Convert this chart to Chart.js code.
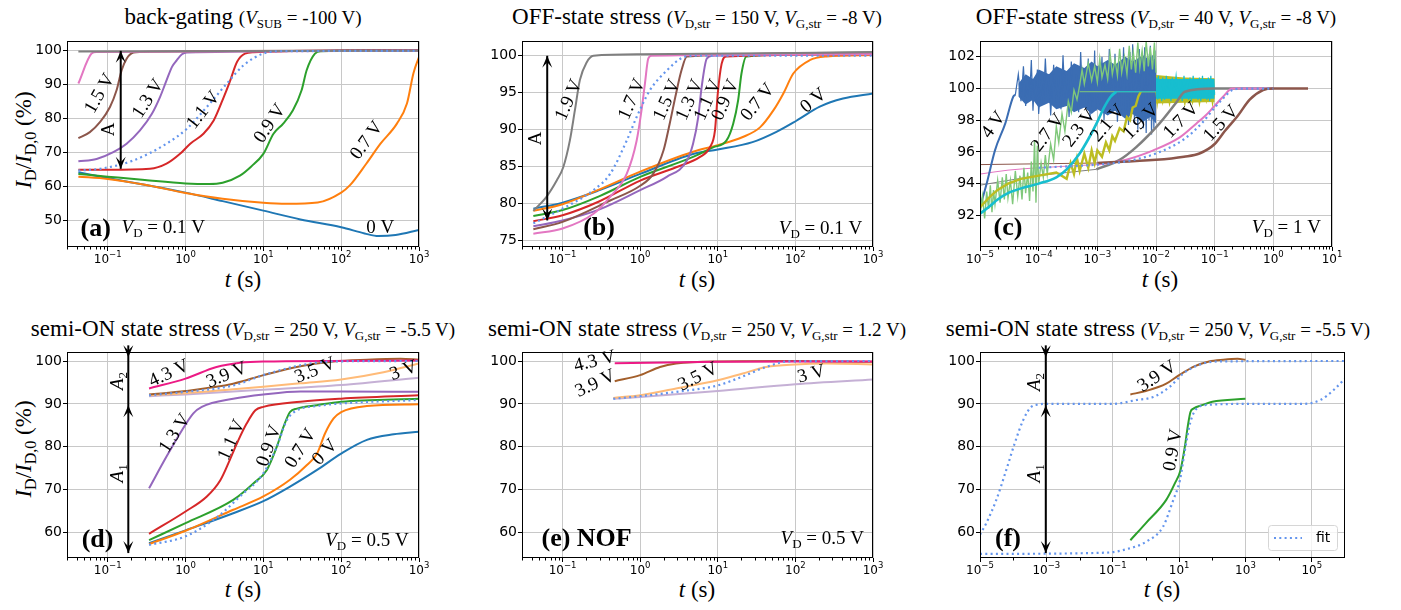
<!DOCTYPE html>
<html>
<head>
<meta charset="utf-8">
<title>Recovery transients</title>
<script src="https://cdn.jsdelivr.net/npm/chart.js@4.4.1/dist/chart.umd.min.js"></script>
<style>
  html, body { margin: 0; padding: 0; background: #fff; }
  body { position: relative; width: 1401px; height: 610px; overflow: hidden; font-family: "Liberation Serif", serif; color: #000; }
  canvas { position: absolute; }
  .ttl { position: absolute; transform: translateX(-50%); white-space: nowrap; font-size: 23px; line-height: 23px; }
  .ttl .p { font-size: 19px; }
  .ttl sub { font-size: 13px; vertical-align: -4px; line-height: 0; }
  .xl { position: absolute; transform: translateX(-50%); white-space: nowrap; font-size: 23px; line-height: 23px; }
  .yl { position: absolute; transform: translate(-50%, -50%) rotate(-90deg); white-space: nowrap; font-size: 23px; line-height: 23px; }
  .yl sub { font-size: 16px; vertical-align: -5px; line-height: 0; }
</style>
</head>
<body>
<div class="ttl" style="left:243px;top:5px">back-gating <span class="p">(<i>V</i><sub>SUB</sub> = -100 V)</span></div>
<div class="ttl" style="left:697px;top:5px">OFF-state stress <span class="p">(<i>V</i><sub>D,str</sub> = 150 V, <i>V</i><sub>G,str</sub> = -8 V)</span></div>
<div class="ttl" style="left:1156px;top:5px">OFF-state stress <span class="p">(<i>V</i><sub>D,str</sub> = 40 V, <i>V</i><sub>G,str</sub> = -8 V)</span></div>
<div class="ttl" style="left:243px;top:317px">semi-ON state stress <span class="p">(<i>V</i><sub>D,str</sub> = 250 V, <i>V</i><sub>G,str</sub> = -5.5 V)</span></div>
<div class="ttl" style="left:697px;top:317px">semi-ON state stress <span class="p">(<i>V</i><sub>D,str</sub> = 250 V, <i>V</i><sub>G,str</sub> = 1.2 V)</span></div>
<div class="ttl" style="left:1158px;top:317px">semi-ON state stress <span class="p">(<i>V</i><sub>D,str</sub> = 250 V, <i>V</i><sub>G,str</sub> = -5.5 V)</span></div>

<div class="xl" style="left:243px;top:268px"><i>t</i> (s)</div>
<div class="xl" style="left:697px;top:268px"><i>t</i> (s)</div>
<div class="xl" style="left:1160px;top:268px"><i>t</i> (s)</div>
<div class="xl" style="left:243px;top:578px"><i>t</i> (s)</div>
<div class="xl" style="left:697px;top:578px"><i>t</i> (s)</div>
<div class="xl" style="left:1162px;top:578px"><i>t</i> (s)</div>

<div class="yl" style="left:23px;top:140px"><i>I</i><sub>D</sub>/<i>I</i><sub>D,0</sub> (%)</div>
<div class="yl" style="left:23px;top:449px"><i>I</i><sub>D</sub>/<i>I</i><sub>D,0</sub> (%)</div>

<script>
// ---------- axes ----------
const xTicksDec = [1e-1, 1e0, 1e1, 1e2, 1e3];
const xTicksC = [1e-5, 1e-4, 1e-3, 1e-2, 1e-1, 1e0, 1e1];
const xTicksF = [1e-5, 1e-3, 1e-1, 1e1, 1e3, 1e5];
const yTicksA = [50, 60, 70, 80, 90, 100];
const yTicksB = [75, 80, 85, 90, 95, 100];
const yTicksC = [92, 94, 96, 98, 100, 102];
const yTicksD = [60, 70, 80, 90, 100];

// ---------- (a) back-gating ----------
const tA_0V  = [0.042, 0.1, 0.3, 1, 3, 10, 30, 100, 200, 300, 500, 1000];
const yA_0V  = [64.3, 62.6, 60.6, 58.3, 55.8, 53.0, 50.4, 48.1, 46.3, 45.5, 45.8, 47.3];
const tA_07V = [0.042, 0.1, 0.3, 1, 3, 10, 20, 50, 100, 130, 210, 320, 520, 700, 850, 1000];
const yA_07V = [63.0, 62.3, 60.6, 58.2, 56.5, 55.3, 55.0, 55.4, 58.3, 60.5, 66.8, 72.7, 78.6, 84.5, 93.5, 98.2];
const tA_09V = [0.042, 0.1, 0.3, 1, 2, 3, 5, 7, 10, 13.5, 18, 24, 31, 36, 46, 55, 1000];
const yA_09V = [63.8, 63.0, 62.0, 61.0, 60.8, 61.2, 63.3, 66.0, 69.7, 75.6, 78.6, 82.5, 88.4, 94.3, 99.2, 99.9, 100.2];
const tA_11V = [0.042, 0.1, 0.35, 0.57, 0.85, 1.15, 1.7, 2.3, 3.1, 3.7, 4.6, 5.8, 7.5, 1000];
const yA_11V = [65.0, 65.0, 65.3, 66.8, 69.7, 72.7, 75.6, 79.5, 86.4, 90.9, 96.8, 99.2, 99.6, 100.2];
const tA_13V = [0.042, 0.072, 0.118, 0.175, 0.26, 0.37, 0.47, 0.57, 0.67, 0.77, 0.9, 1.04, 1000];
const yA_13V = [67.5, 68.2, 70.2, 72.7, 76.6, 81.5, 86.4, 91.3, 95.3, 97.2, 99.0, 99.5, 100.1];
const tA_15V = [0.042, 0.059, 0.08, 0.107, 0.13, 0.151, 0.175, 0.214, 0.26, 1000];
const yA_15V = [74.3, 76.1, 79.1, 83.5, 88.4, 94.3, 97.7, 99.5, 99.7, 100.1];
const tA_17V = [0.042, 0.062, 0.072, 1000];
const yA_17V = [90.4, 99.2, 99.7, 100.0];
const tA_19V = [0.042, 1000];
const yA_19V = [99.8, 100.0];
const tA_fit = [0.042, 0.08, 0.21, 0.57, 1.04, 1.88, 3.4, 5.6, 10, 18, 1000];
const yA_fit = [64.8, 65.3, 67.7, 72.7, 77.1, 83.5, 90.4, 95.8, 99.2, 99.9, 100.0];

// ---------- (b) OFF-state 150 V ----------
const tB_0V  = [0.042, 0.1, 0.3, 1, 4.8, 10, 28, 57, 103, 206, 411, 1000];
const yB_0V  = [79.3, 80.1, 81.8, 84.0, 86.7, 87.3, 88.3, 89.7, 91.2, 93.1, 94.2, 94.9];
const tB_07V = [0.042, 0.1, 0.3, 1, 4.8, 10, 21, 35, 52, 70, 94, 153, 251, 1000];
const yB_07V = [79.0, 79.9, 81.9, 84.3, 87.0, 87.9, 89.0, 90.3, 92.6, 94.9, 97.6, 99.4, 99.9, 100.1];
const tB_09V = [0.042, 0.1, 0.3, 1, 4.8, 8.7, 12.9, 15.8, 18.3, 20.2, 23.4, 1000];
const yB_09V = [78.3, 79.1, 81.0, 83.6, 86.3, 87.6, 88.5, 90.8, 94.0, 97.6, 99.9, 100.4];
const tB_11V = [0.042, 0.1, 0.3, 1, 2.9, 5.9, 7.9, 9.2, 10, 11.2, 12.9, 1000];
const yB_11V = [77.6, 78.4, 80.3, 83.1, 84.9, 86.3, 87.6, 89.9, 94.9, 98.9, 99.9, 100.2];
const tB_13V = [0.042, 0.1, 0.3, 1, 2.2, 4, 4.8, 5.6, 6.2, 7.2, 8.5, 1000];
const yB_13V = [76.9, 77.7, 79.2, 81.8, 83.6, 85.8, 88.1, 91.7, 95.8, 99.6, 100.0, 100.3];
const tB_15V = [0.042, 0.1, 0.41, 1, 1.47, 2.0, 2.4, 2.9, 3.4, 4.0, 1000];
const yB_15V = [76.5, 77.5, 80.4, 82.4, 84.0, 87.2, 90.8, 94.9, 98.0, 99.9, 100.4];
const tB_17V = [0.042, 0.1, 0.25, 0.41, 0.67, 0.9, 1.04, 1.15, 1.27, 1.4, 1000];
const yB_17V = [75.9, 76.6, 78.6, 80.9, 84.0, 88.5, 92.6, 96.2, 99.6, 100.0, 100.2];
const tB_19V = [0.042, 0.062, 0.084, 0.102, 0.124, 0.144, 0.167, 0.204, 0.25, 1, 1000];
const yB_19V = [79.0, 80.9, 83.1, 84.9, 88.5, 92.6, 96.7, 99.1, 100.0, 100.2, 100.5];
const tB_fit = [0.042, 0.092, 0.25, 0.41, 0.67, 0.9, 1.33, 2.2, 3.6, 5, 1000];
const yB_fit = [77.3, 79.1, 81.8, 84.0, 88.5, 91.7, 95.3, 98.0, 99.8, 100.0, 100.0];

// ---------- (c) OFF-state 40 V (noisy traces as [t, value] pairs) ----------
const tC_4Vrise = [1e-5, 1.3e-5, 1.8e-5, 2.7e-5, 3.7e-5, 4e-5];
const yC_4Vrise = [92.5, 94.0, 96.1, 97.8, 99.5, 99.6];
const tC_4Vband = [4.5e-5, 6e-5, 8e-5, 1e-4, 1.5e-4, 2e-4, 3e-4, 4e-4, 6e-4, 8e-4, 1e-3, 1.5e-3, 2e-3, 3e-3, 4e-3, 6e-3, 8e-3, 1e-2];
const yC_4Vhi   = [100.3, 100.9, 100.6, 101.2, 100.9, 101.4, 101.1, 101.6, 101.3, 101.7, 101.4, 101.8, 101.5, 102.0, 101.7, 102.1, 101.8, 101.9];
const yC_4Vlo   = [99.5, 99.0, 99.3, 98.8, 99.1, 98.7, 98.9, 98.5, 98.8, 98.4, 98.7, 98.3, 98.6, 98.1, 98.4, 97.9, 98.2, 97.8];
const c_4V = [[4e-5, 99.6], [4.5e-5, 100.9], [5e-5, 99.2], [5.5e-5, 101.4], [6e-5, 98.9], [6.5e-5, 100.5],
  [7e-5, 99.4], [7.5e-5, 101.8], [8e-5, 98.6], [8.5e-5, 100.7], [9e-5, 99.3], [9.5e-5, 101.2], [1e-4, 98.4],
  [1.1e-4, 100.6], [1.2e-4, 99.0], [1.3e-4, 101.9], [1.4e-4, 99.5], [1.5e-4, 100.9], [1.6e-4, 98.3], [1.8e-4, 101.5],
  [2e-4, 99.1], [2.2e-4, 100.8], [2.4e-4, 98.7], [2.6e-4, 102.1], [2.8e-4, 99.4], [3e-4, 101.0], [3.3e-4, 98.2],
  [3.6e-4, 101.7], [4e-4, 99.0], [4.4e-4, 100.9], [4.8e-4, 98.5], [5.2e-4, 102.3], [5.6e-4, 99.3], [6e-4, 101.2],
  [6.5e-4, 98.8], [7e-4, 101.9], [7.5e-4, 98.1], [8e-4, 100.8], [8.5e-4, 99.2], [9e-4, 102.4], [9.5e-4, 98.6],
  [1e-3, 101.3], [1.1e-3, 99.0], [1.2e-3, 102.0], [1.3e-3, 98.0], [1.4e-3, 101.1], [1.5e-3, 98.9], [1.6e-3, 102.5],
  [1.7e-3, 98.4], [1.8e-3, 101.4], [1.9e-3, 99.1], [2e-3, 102.2], [2.2e-3, 97.9], [2.4e-3, 101.6], [2.6e-3, 98.7],
  [2.8e-3, 102.6], [3e-3, 98.2], [3.2e-3, 101.5], [3.4e-3, 97.7], [3.6e-3, 102.3], [3.8e-3, 98.5], [4e-3, 102.8],
  [4.3e-3, 97.8], [4.6e-3, 101.6], [4.9e-3, 97.4], [5.2e-3, 102.5], [5.5e-3, 98.3], [5.8e-3, 101.9], [6.1e-3, 97.5],
  [6.4e-3, 102.6], [6.8e-3, 97.2], [7.2e-3, 102.2], [7.6e-3, 98.0], [8e-3, 102.7], [8.4e-3, 97.1], [8.8e-3, 102.1],
  [9.2e-3, 97.5], [9.6e-3, 102.4], [1e-2, 99.5]];
const c_27V = [[1e-5, 92.0], [1.1e-5, 93.2], [1.2e-5, 91.8], [1.3e-5, 93.5], [1.4e-5, 92.4], [1.5e-5, 93.9], [1.6e-5, 92.2],
  [1.7e-5, 93.6], [1.8e-5, 92.7], [2e-5, 94.2], [2.2e-5, 92.8], [2.4e-5, 94.4], [2.6e-5, 93.0], [2.8e-5, 94.6],
  [3e-5, 93.1], [3.3e-5, 94.2], [3.6e-5, 92.7], [4e-5, 94.8], [4.4e-5, 93.2], [4.8e-5, 94.5], [5.2e-5, 93.0],
  [5.6e-5, 95.0], [6e-5, 93.4], [6.5e-5, 94.7], [7e-5, 92.9], [7.5e-5, 95.4], [8e-5, 93.5], [8.5e-5, 96.7],
  [9e-5, 92.8], [9.5e-5, 96.4], [1e-4, 94.0], [1.1e-4, 95.3], [1.2e-4, 94.4], [1.3e-4, 95.8], [1.4e-4, 94.6],
  [1.6e-4, 96.5], [1.8e-4, 95.5], [2e-4, 97.6], [2.2e-4, 96.6], [2.5e-4, 98.4], [2.8e-4, 97.3], [3.2e-4, 99.2],
  [3.6e-4, 98.5], [4e-4, 99.9], [4.5e-4, 99.3], [5e-4, 100.2], [5.5e-4, 101.2], [6e-4, 100.3], [7e-4, 101.6],
  [8e-4, 100.5], [9e-4, 101.4], [1e-3, 100.4], [1.1e-3, 101.9], [1.2e-3, 100.7], [1.35e-3, 101.5], [1.5e-3, 100.6],
  [1.65e-3, 102.2], [1.8e-3, 100.9], [2e-3, 101.8], [2.2e-3, 100.8], [2.4e-3, 102.5], [2.6e-3, 101.0], [2.9e-3, 102.0],
  [3.2e-3, 100.9], [3.5e-3, 102.7], [3.8e-3, 101.2], [4.1e-3, 102.3], [4.5e-3, 101.0], [4.9e-3, 102.9], [5.3e-3, 101.3],
  [5.8e-3, 102.4], [6.3e-3, 101.1], [6.8e-3, 103.0], [7.4e-3, 101.4], [8e-3, 102.6], [8.7e-3, 101.2], [9.4e-3, 102.9],
  [1e-2, 101.0]];
const tC_27Vflat = [5e-4, 1e-2];
const yC_27Vflat = [99.8, 99.8];
const tC_23V = [1e-5, 1.5e-5, 2e-5, 3e-5, 5e-5, 1e-4, 2e-4, 3e-4, 5e-4, 7e-4, 1e-3, 1.3e-3, 1.7e-3, 2.1e-3];
const yC_23V = [92.1, 92.6, 93.0, 93.4, 93.7, 94.0, 94.4, 94.9, 95.9, 96.8, 97.9, 98.8, 99.5, 99.8];
const tC_23Vflat = [2.1e-3, 1e-2];
const yC_23Vflat = [99.8, 99.8];
const tC_23Vband = [1e-2, 1e-1];
const yC_23Vhi   = [100.6, 100.6];
const yC_23Vlo   = [99.35, 99.35];
const c_23V = [[1e-2, 99.8],
  [1.03e-2, 100.7], [1.07e-2, 99.3], [1.1e-2, 100.8], [1.15e-2, 99.4], [1.2e-2, 100.6], [1.25e-2, 99.2], [1.3e-2, 100.7],
  [1.4e-2, 99.3], [1.5e-2, 100.8], [1.6e-2, 99.4], [1.7e-2, 100.6], [1.8e-2, 99.2], [1.9e-2, 100.7], [2e-2, 99.5],
  [2.2e-2, 100.8], [2.4e-2, 99.3], [2.6e-2, 100.6], [2.8e-2, 99.2], [3e-2, 100.8], [3.2e-2, 99.4], [3.4e-2, 100.6],
  [3.6e-2, 99.3], [3.8e-2, 100.7], [4e-2, 99.2], [4.3e-2, 100.8], [4.6e-2, 99.4], [4.9e-2, 100.5], [5.2e-2, 99.3],
  [5.5e-2, 100.7], [5.8e-2, 99.2], [6.2e-2, 100.8], [6.6e-2, 99.4], [7e-2, 100.6], [7.4e-2, 99.3], [7.8e-2, 100.7],
  [8.2e-2, 99.2], [8.6e-2, 100.8], [9e-2, 99.4], [9.5e-2, 100.6], [1e-1, 99.6]];
const c_21Vrise = [[1e-5, 92.5], [1.5e-5, 93.2], [2e-5, 93.6], [3e-5, 94.0], [5e-5, 94.3], [1e-4, 94.5], [2e-4, 94.7],
  [3e-4, 94.3], [3.5e-4, 95.3], [4e-4, 94.6], [4.5e-4, 95.6], [5e-4, 94.8], [6e-4, 95.9], [7e-4, 95.0], [8e-4, 96.1],
  [9e-4, 95.3], [1e-3, 96.1], [1.2e-3, 95.7], [1.4e-3, 96.6], [1.6e-3, 96.1], [1.8e-3, 97.0], [2e-3, 96.7],
  [2.4e-3, 97.5], [2.8e-3, 97.3], [3.2e-3, 98.2], [3.6e-3, 98.0], [4e-3, 98.8], [4.5e-3, 98.9], [5e-3, 99.5],
  [5.5e-3, 99.8]];
const tC_21Vflat = [5.5e-3, 1e-2];
const yC_21Vflat = [99.8, 99.8];
const tC_21Vband = [1e-2, 3e-2, 1e-1];
const yC_21Vhi   = [100.85, 100.7, 100.65];
const yC_21Vlo   = [99.05, 99.1, 99.15];
const c_21V = [[1e-2, 99.8], [1.05e-2, 99.0], [1.15e-2, 100.2], [1.3e-2, 99.1], [1.5e-2, 100.3], [1.7e-2, 99.0],
  [2e-2, 100.1], [2.3e-2, 99.2], [2.7e-2, 100.3], [3.1e-2, 99.0], [3.6e-2, 100.2], [4.2e-2, 99.1], [4.8e-2, 100.3],
  [5.5e-2, 99.0], [6.3e-2, 100.2], [7.2e-2, 99.2], [8.2e-2, 100.3], [9.2e-2, 99.0], [1e-1, 99.8]];
const tC_19V = [9.6e-4, 2.4e-3, 4.6e-3, 1.15e-2, 2.2e-2, 3.1e-2, 0.1, 1];
const yC_19V = [94.9, 95.5, 96.3, 97.8, 99.1, 99.8, 100.0, 100.0];
const tC_19Vm = [1e-5, 3e-5, 1e-4, 3e-4, 9.6e-4];
const yC_19Vm = [93.9, 94.2, 94.5, 94.7, 94.9];
const tC_17V = [1e-3, 3e-3, 9e-3, 2.5e-2, 4.9e-2, 7e-2, 9.4e-2, 0.14, 0.2, 1];
const yC_17V = [95.2, 95.5, 96.1, 96.9, 97.8, 98.3, 98.8, 99.5, 100.0, 100.0];
const tC_17Vm = [1e-5, 3e-5, 1e-4, 1e-3];
const yC_17Vm = [94.6, 94.85, 95.0, 95.2];
const tC_15V = [1e-3, 1e-2, 3e-2, 5.5e-2, 0.1, 0.148, 0.25, 0.395, 0.667, 1, 3.9];
const yC_15V = [95.3, 95.5, 95.7, 95.9, 96.5, 97.3, 98.3, 99.3, 99.9, 100.0, 100.0];
const tC_15Vm = [1e-5, 1e-4, 1e-3];
const yC_15Vm = [95.2, 95.25, 95.3];
const tC_fit = [1e-4, 1e-3, 3e-3, 1e-2, 3e-2, 6e-2, 0.1, 0.15, 0.2, 0.3, 1];
const yC_fit = [95.0, 95.2, 95.4, 95.9, 96.8, 97.8, 98.8, 99.5, 99.9, 100.0, 100.0];

// ---------- (d) semi-ON, VG,str = -5.5 V ----------
const tD_0V  = [0.34, 1, 4.1, 10, 22, 49, 100, 214, 472, 1000];
const yD_0V  = [57.5, 60.5, 64.5, 67.3, 70.7, 74.6, 78.4, 81.6, 82.9, 83.5];
const tD_07V = [0.34, 1, 4.1, 10, 22, 36, 49, 62, 80, 100, 214, 1000];
const yD_07V = [57.3, 60.4, 65.3, 68.4, 72.3, 75.7, 78.4, 83.1, 86.6, 88.1, 89.5, 89.9];
const tD_09V = [0.34, 1, 4.1, 7.5, 11.1, 14.9, 18.2, 22, 27, 49, 100, 1000];
const yD_09V = [58.2, 62.2, 67.6, 71.5, 74.6, 80.0, 84.7, 88.1, 88.9, 89.7, 90.5, 91.2];
const tD_11V = [0.34, 1, 1.88, 2.8, 3.7, 4.8, 6.1, 7.9, 10, 30, 100, 1000];
const yD_11V = [59.7, 64.9, 68.4, 72.2, 76.9, 81.6, 85.4, 88.5, 89.3, 90.5, 91.2, 92.0];
const tD_13V = [0.34, 0.57, 0.85, 1.26, 1.62, 4.1, 10, 30, 100, 1000];
const yD_13V = [70.3, 77.7, 83.1, 87.8, 89.3, 91.2, 92.2, 92.9, 92.9, 92.8];
const tD_30V = [0.34, 1, 4.1, 10, 100, 1000];
const yD_30V = [91.8, 92.2, 92.9, 93.3, 94.4, 96.1];
const tD_35V = [0.34, 1, 4.1, 10, 30, 100, 350, 1000];
const yD_35V = [92.0, 92.5, 93.4, 94.0, 94.8, 95.7, 97.4, 99.4];
const tD_39V = [0.34, 1, 4.1, 10, 30, 80, 214, 580, 1000];
const yD_39V = [92.2, 93.0, 94.7, 96.7, 98.8, 99.9, 100.3, 100.5, 100.3];
const tD_43V = [0.34, 1, 2.5, 5, 10, 1000];
const yD_43V = [93.6, 95.9, 98.6, 99.6, 99.9, 100.1];
const tD_fit39 = [0.34, 1, 4.1, 10, 30, 80, 1000];
const yD_fit39 = [92.0, 92.8, 94.3, 96.7, 99.0, 99.9, 100.0];
const tD_fit09 = [0.34, 1, 2.6, 5, 10, 14.9, 20, 27, 49, 100, 1000];
const yD_fit09 = [57.1, 59.1, 63.7, 68.4, 73.8, 80.0, 86.2, 88.5, 89.5, 90.1, 90.9];

// ---------- (e) semi-ON, NOF ----------
const tE_43V = [0.47, 10, 100, 1000];
const yE_43V = [99.5, 99.8, 99.9, 99.9];
const tE_39V = [0.47, 1, 1.8, 2.9, 10, 100, 1000];
const yE_39V = [95.3, 96.7, 98.6, 99.4, 99.9, 100.0, 99.8];
const tE_35V = [0.45, 1, 2.9, 10, 21, 42, 100, 250, 1000];
const yE_35V = [91.4, 92.0, 93.6, 95.5, 97.1, 98.6, 99.2, 99.4, 99.2];
const tE_30V = [0.45, 1, 10, 100, 1000];
const yE_30V = [91.2, 91.6, 93.0, 94.6, 95.7];
const tE_fit = [0.45, 1, 2.9, 10, 21, 42, 80, 1000];
const yE_fit = [91.2, 91.8, 92.8, 94.3, 96.4, 98.6, 99.9, 100.0];

// ---------- (f) fits over the full time range ----------
const tF_fitA = [1e-5, 1.55e-5, 3.1e-5, 6.2e-5, 1.11e-4, 2e-4, 3.5e-4, 6.3e-4, 1e-3, 0.1, 0.52, 1.66, 5.3, 13.4, 42.6, 171, 1e6];
const yF_fitA = [59.5, 62.2, 67.6, 74.6, 80.8, 86.2, 89.3, 89.9, 90.0, 90.0, 90.9, 91.6, 94.0, 97.1, 99.2, 99.9, 100.0];
const tF_fitB = [1e-5, 0.065, 0.26, 1.05, 3.3, 6.7, 10.6, 15, 21.3, 33.8, 85, 1700, 5.6e4, 1.8e5, 4.5e5, 1e6];
const yF_fitB = [55.0, 55.3, 56.1, 57.9, 61.4, 67.6, 72.2, 79.2, 85.4, 88.9, 89.8, 90.0, 90.0, 90.9, 93.2, 95.9];

// ---------- drawing ----------
const COL = {
  blue: '#1f77b4', orange: '#ff7f0e', green: '#2ca02c', red: '#d62728', purple: '#9467bd',
  brown: '#8c564b', pink: '#e377c2', gray: '#7f7f7f', olive: '#bcbd22', cyan: '#17becf',
  fit: '#6495ed', steel: '#3b6db3', lgreen: '#7fc87a', lpurple: '#c5b0d5', lorange: '#ffbb78',
  sienna: '#a35f2b', magenta: '#ec1a85'
};
const GRID = '#c8c8c8';
const YW = 62, PT = 14, PR = 24, XH = 40;
const SUPMINUS = '\u2212';

function zip(t, y) { return t.map((v, i) => ({x: v, y: y[i]})); }
function pairs(p) { return p.map(([x, y]) => ({x, y})); }
function curve(data, color, extra) {
  return Object.assign({data, borderColor: color, borderWidth: 2, pointRadius: 0, fill: false,
    cubicInterpolationMode: 'monotone'}, extra || {});
}
function fitCurve(data) { return curve(data, COL.fit, {borderWidth: 2.2, borderDash: [2, 3.3]}); }
function noisy(data, color, w) { return curve(data, color, {cubicInterpolationMode: 'default', tension: 0, borderWidth: w || 1.2}); }
function thin(data, color) { return curve(data, color, {borderWidth: 1}); }
// dense noise core: filled between an upper and a lower envelope
function band(t, hi, lo, color) {
  return [
    {data: zip(t, hi), borderColor: 'rgba(0,0,0,0)', pointRadius: 0, tension: 0, fill: '+1', backgroundColor: color},
    {data: zip(t, lo), borderColor: 'rgba(0,0,0,0)', pointRadius: 0, tension: 0, fill: false}
  ];
}
function VD(v) { return [['V', 'i'], ['D', 's'], [' = ' + v + ' V', '']]; }

function drawRich(ctx, parts, x, y, size, rot, align) {
  ctx.save();
  ctx.translate(x, y);
  ctx.rotate(-rot * Math.PI / 180);
  const fonts = parts.map(([, st]) => {
    const sz = st.includes('s') ? Math.round(size * 0.68) : size;
    return (st.includes('i') ? 'italic ' : '') + (st.includes('b') ? 'bold ' : '') + sz + 'px "Liberation Serif"';
  });
  let total = 0;
  const ws = parts.map(([txt], i) => { ctx.font = fonts[i]; const w = ctx.measureText(txt).width; total += w; return w; });
  let cx = align === 'left' ? 0 : align === 'right' ? -total : -total / 2;
  ctx.textBaseline = 'middle';
  ctx.textAlign = 'left';
  ctx.fillStyle = '#000';
  parts.forEach(([txt, st], i) => {
    ctx.font = fonts[i];
    ctx.fillText(txt, cx, st.includes('s') ? size * 0.3 : 0);
    cx += ws[i];
  });
  ctx.restore();
}

function arrowHead(ctx, x, y, dir) {
  const L = 12, W = 5;
  ctx.beginPath();
  ctx.moveTo(x, y);
  ctx.lineTo(x - W, y - dir * L);
  ctx.lineTo(x, y - dir * L * 0.55);
  ctx.lineTo(x + W, y - dir * L);
  ctx.closePath();
  ctx.fill();
}

function minorTicks(xr, majors) {
  const out = [];
  const lo = Math.floor(Math.log10(xr[0]) + 1e-9), hi = Math.ceil(Math.log10(xr[1]) - 1e-9);
  const step = Math.round(Math.log10(majors[1] / majors[0]));
  const e0 = Math.round(Math.log10(majors[0]));
  for (let e = lo; e < hi; e++) {
    if (step > 1) {
      if ((e - e0) % step !== 0) out.push(Math.pow(10, e));
      continue;
    }
    for (let m = 2; m < 10; m++) {
      const v = m * Math.pow(10, e);
      if (v >= xr[0] && v <= xr[1]) out.push(v);
    }
  }
  return out;
}

// "10" with a raised exponent, like matplotlib's log tick labels
function drawPowerLabel(ctx, v, px, base) {
  const e = Math.round(Math.log10(v));
  const ex = e < 0 ? SUPMINUS + String(-e) : String(e);
  ctx.font = '12px "DejaVu Sans"';
  const w1 = ctx.measureText('10').width;
  ctx.font = '8.5px "DejaVu Sans"';
  const w2 = ctx.measureText(ex).width;
  const x0 = px - (w1 + w2) / 2;
  ctx.textAlign = 'left';
  ctx.textBaseline = 'alphabetic';
  ctx.fillStyle = '#000';
  ctx.font = '12px "DejaVu Sans"';
  ctx.fillText('10', x0, base);
  ctx.font = '8.5px "DejaVu Sans"';
  ctx.fillText(ex, x0 + w1, base - 5.6);
}

function decor(p) {
  return {
    id: 'decor',
    afterDatasetsDraw(chart) {
      const {ctx, chartArea: a} = chart;
      ctx.save();
      ctx.strokeStyle = '#000';
      ctx.lineWidth = 1;
      ctx.strokeRect(a.left + 0.5, a.top + 0.5, a.right - a.left - 1, a.bottom - a.top - 1);
      ctx.restore();
    },
    afterDraw(chart) {
      const {ctx, chartArea: a} = chart;
      const xs = chart.scales.x, ys = chart.scales.y;
      ctx.save();
      ctx.strokeStyle = '#000';
      ctx.lineWidth = 1;
      ctx.beginPath();
      minorTicks(p.xr, p.xt).forEach(v => {
        const px = Math.round(xs.getPixelForValue(v)) + 0.5;
        ctx.moveTo(px, a.bottom);
        ctx.lineTo(px, a.bottom + 2.5);
      });
      ctx.stroke();
      p.xt.forEach(v => drawPowerLabel(ctx, v, xs.getPixelForValue(v), a.bottom + 16));
      // arrows
      ctx.fillStyle = '#000';
      ctx.lineWidth = 2;
      (p.arrows || []).forEach(ar => {
        const px = xs.getPixelForValue(ar.x);
        ctx.beginPath();
        ctx.moveTo(px, ys.getPixelForValue(ar.y1));
        ctx.lineTo(px, ys.getPixelForValue(ar.y2));
        ctx.stroke();
        ar.heads.forEach(([v, dir]) => arrowHead(ctx, px, ys.getPixelForValue(v), dir));
      });
      // legend
      if (p.legend) {
        const bx = a.right - 77, by = a.bottom - 33, bw = 69, bh = 25;
        ctx.fillStyle = 'rgba(255,255,255,0.8)';
        ctx.strokeStyle = '#d6d6d6';
        ctx.lineWidth = 1;
        ctx.beginPath();
        ctx.roundRect(bx + 0.5, by + 0.5, bw, bh, 3);
        ctx.fill();
        ctx.stroke();
        ctx.strokeStyle = COL.fit;
        ctx.lineWidth = 2.2;
        ctx.setLineDash([2, 3.3]);
        ctx.beginPath();
        ctx.moveTo(bx + 6, by + bh / 2 + 0.5);
        ctx.lineTo(bx + 34, by + bh / 2 + 0.5);
        ctx.stroke();
        ctx.setLineDash([]);
        ctx.fillStyle = '#000';
        ctx.font = '14px "DejaVu Sans"';
        ctx.textBaseline = 'middle';
        ctx.textAlign = 'left';
        ctx.fillText(p.legend, bx + 48, by + bh / 2 + 1);
      }
      ctx.restore();
      (p.notes || []).forEach(n => {
        const parts = n.parts || [[n.s, '']];
        drawRich(ctx, parts, xs.getPixelForValue(n.x), ys.getPixelForValue(n.y), n.size || 19, n.r || 0, n.align || 'center');
      });
    }
  };
}

function makePanel(p) {
  const [l, t, r, b] = p.box;
  const w = r - l + YW + PR, h = b - t + PT + XH;
  const cv = document.createElement('canvas');
  cv.width = w;
  cv.height = h;
  cv.style.left = (l - YW) + 'px';
  cv.style.top = (t - PT) + 'px';
  cv.style.width = w + 'px';
  cv.style.height = h + 'px';
  document.body.appendChild(cv);
  p.datasets.forEach((d, i) => { d.order = -i; });
  const tickFont = {family: 'DejaVu Sans', size: 14};
  new Chart(cv.getContext('2d'), {
    type: 'line',
    data: {datasets: p.datasets},
    options: {
      responsive: false,
      animation: false,
      events: [],
      layout: {padding: {left: 0, right: PR, top: PT, bottom: 0}},
      plugins: {legend: {display: false}, tooltip: {enabled: false}},
      scales: {
        x: {
          type: 'logarithmic', min: p.xr[0], max: p.xr[1], bounds: 'data',
          afterBuildTicks: s => { s.ticks = p.xt.map(v => ({value: v})); },
          afterFit: s => { s.height = XH; s.paddingLeft = 0; s.paddingRight = 0; },
          ticks: {display: false, autoSkip: false},
          grid: {color: GRID, lineWidth: 1, tickColor: '#000', tickLength: 4},
          border: {display: false}
        },
        y: {
          type: 'linear', min: p.yr[0], max: p.yr[1], bounds: 'data',
          afterBuildTicks: s => { s.ticks = p.yt.map(v => ({value: v})); },
          afterFit: s => { s.width = YW; s.paddingTop = 0; s.paddingBottom = 0; },
          ticks: {font: tickFont, color: '#000', padding: 1},
          grid: {color: GRID, lineWidth: 1, tickColor: '#000', tickLength: 4},
          border: {display: false}
        }
      }
    },
    plugins: [decor(p)]
  });
}

makePanel({
  box: [67, 41, 419, 247], xr: [0.03, 1000], yr: [42.3, 102.9], xt: xTicksDec, yt: yTicksA,
  datasets: [
    curve(zip(tA_0V, yA_0V), COL.blue), curve(zip(tA_07V, yA_07V), COL.orange),
    curve(zip(tA_09V, yA_09V), COL.green), curve(zip(tA_11V, yA_11V), COL.red),
    curve(zip(tA_13V, yA_13V), COL.purple), curve(zip(tA_15V, yA_15V), COL.brown),
    curve(zip(tA_17V, yA_17V), COL.pink), curve(zip(tA_19V, yA_19V), COL.gray),
    fitCurve(zip(tA_fit, yA_fit))
  ],
  arrows: [{x: 0.147, y1: 65.3, y2: 100, heads: [[100, -1], [65.3, 1]]}],
  notes: [
    {x: 0.0796, y: 87.4, s: '1.5 V', r: 60}, {x: 0.333, y: 85.9, s: '1.3 V', r: 57},
    {x: 1.70, y: 82.5, s: '1.1 V', r: 52}, {x: 12.2, y: 78.6, s: '0.9 V', r: 56},
    {x: 214, y: 73.6, s: '0.7 V', r: 54}, {x: 318, y: 47.8, s: '0 V'},
    {x: 0.104, y: 76.9, s: 'A', r: 90},
    {x: 0.0703, y: 47.6, parts: [['(a)', 'b']], size: 26},
    {x: 0.151, y: 47.8, parts: VD('0.1'), align: 'left'}
  ]
});

makePanel({
  box: [522, 41, 873, 247], xr: [0.03, 1000], yr: [74.1, 102.0], xt: xTicksDec, yt: yTicksB,
  datasets: [
    curve(zip(tB_0V, yB_0V), COL.blue), curve(zip(tB_07V, yB_07V), COL.orange),
    curve(zip(tB_09V, yB_09V), COL.green), curve(zip(tB_11V, yB_11V), COL.red),
    curve(zip(tB_13V, yB_13V), COL.purple), curve(zip(tB_15V, yB_15V), COL.brown),
    curve(zip(tB_17V, yB_17V), COL.pink), curve(zip(tB_19V, yB_19V), COL.gray),
    fitCurve(zip(tB_fit, yB_fit))
  ],
  arrows: [{x: 0.0634, y1: 77.7, y2: 100, heads: [[100, -1], [77.7, 1]]}],
  notes: [
    {x: 0.121, y: 94.0, s: '1.9 V', r: 66}, {x: 0.789, y: 94.1, s: '1.7 V', r: 66},
    {x: 2.23, y: 94.0, s: '1.5 V', r: 66}, {x: 4.37, y: 94.0, s: '1.3 V', r: 66},
    {x: 7.5, y: 94.0, s: '1.1 V', r: 66}, {x: 12.6, y: 94.0, s: '0.9 V', r: 66},
    {x: 33, y: 93.7, s: '0.7 V', r: 51}, {x: 172, y: 93.9, s: '0 V', r: 40},
    {x: 0.0449, y: 88.8, s: 'A', r: 90},
    {x: 0.295, y: 76.6, parts: [['(b)', 'b']], size: 26},
    {x: 211, y: 76.6, parts: VD('0.1')}
  ]
});

makePanel({
  box: [980, 41, 1332, 247], xr: [1e-5, 10], yr: [90.0, 103.0], xt: xTicksC, yt: yTicksC,
  datasets: [
    thin(zip(tC_15Vm, yC_15Vm), COL.brown), thin(zip(tC_17Vm, yC_17Vm), COL.pink),
    thin(zip(tC_19Vm, yC_19Vm), COL.gray),
    ...band(tC_4Vband, yC_4Vhi, yC_4Vlo, COL.steel),
    curve(zip(tC_4Vrise, yC_4Vrise), COL.steel), noisy(pairs(c_4V), COL.steel),
    noisy(pairs(c_27V), COL.lgreen, 1.4), thin(zip(tC_27Vflat, yC_27Vflat), COL.lgreen),
    ...band(tC_21Vband, yC_21Vhi, yC_21Vlo, COL.olive),
    noisy(pairs(c_21Vrise), COL.olive, 2.4), thin(zip(tC_21Vflat, yC_21Vflat), COL.olive),
    noisy(pairs(c_21V), COL.olive),
    ...band(tC_23Vband, yC_23Vhi, yC_23Vlo, COL.cyan),
    curve(zip(tC_23V, yC_23V), COL.cyan, {borderWidth: 2.6}), thin(zip(tC_23Vflat, yC_23Vflat), COL.cyan),
    noisy(pairs(c_23V), COL.cyan),
    curve(zip(tC_19V, yC_19V), COL.gray, {borderWidth: 2.5}), curve(zip(tC_17V, yC_17V), COL.pink),
    curve(zip(tC_15V, yC_15V), COL.brown, {borderWidth: 2.5}),
    fitCurve(zip(tC_fit, yC_fit))
  ],
  notes: [
    {x: 1.71e-5, y: 97.7, s: '4 V', r: 54}, {x: 1.44e-4, y: 97.2, s: '2.7 V', r: 53},
    {x: 5.0e-4, y: 97.5, s: '2.3 V', r: 53}, {x: 1.52e-3, y: 97.8, s: '2.1 V', r: 50},
    {x: 5.6e-3, y: 97.9, s: '1.9 V', r: 45}, {x: 2.7e-2, y: 98.0, s: '1.7 V', r: 46},
    {x: 0.13, y: 97.8, s: '1.5 V', r: 47},
    {x: 3.0e-5, y: 91.16, parts: [['(c)', 'b']], size: 26},
    {x: 1.67, y: 91.2, parts: VD('1')}
  ]
});

makePanel({
  box: [67, 352, 419, 558], xr: [0.03, 1000], yr: [54.05, 102.1], xt: xTicksDec, yt: yTicksD,
  datasets: [
    curve(zip(tD_0V, yD_0V), COL.blue), curve(zip(tD_07V, yD_07V), COL.orange),
    curve(zip(tD_09V, yD_09V), COL.green), curve(zip(tD_11V, yD_11V), COL.red),
    curve(zip(tD_13V, yD_13V), COL.purple), curve(zip(tD_30V, yD_30V), COL.lpurple),
    curve(zip(tD_35V, yD_35V), COL.lorange), curve(zip(tD_39V, yD_39V), COL.sienna),
    curve(zip(tD_43V, yD_43V), COL.magenta),
    fitCurve(zip(tD_fit39, yD_fit39)), fitCurve(zip(tD_fit09, yD_fit09))
  ],
  arrows: [{x: 0.184, y1: 55.2, y2: 103.65, heads: [[100.9, 1], [89.7, -1], [55.2, 1]]}],
  notes: [
    {x: 0.615, y: 97.05, s: '4.3 V', r: 25}, {x: 3.4, y: 96.7, s: '3.9 V', r: 22},
    {x: 46.5, y: 97.8, s: '3.5 V', r: 22}, {x: 635, y: 97.7, s: '3 V', r: 20},
    {x: 0.734, y: 83.1, s: '1.3 V', r: 57}, {x: 3.94, y: 81.55, s: '1.1 V', r: 66},
    {x: 11.9, y: 80.2, s: '0.9 V', r: 70}, {x: 30.3, y: 79.6, s: '0.7 V', r: 58},
    {x: 62.4, y: 78.7, s: '0 V', r: 47},
    {x: 0.134, y: 95.35, parts: [['A', 'i'], ['2', 's']], r: 90},
    {x: 0.134, y: 73.8, parts: [['A', 'i'], ['1', 's']], r: 90},
    {x: 0.074, y: 58.1, parts: [['(d)', 'b']], size: 26},
    {x: 214, y: 58.1, parts: VD('0.5')}
  ]
});

makePanel({
  box: [522, 352, 873, 558], xr: [0.03, 1000], yr: [54.05, 102.1], xt: xTicksDec, yt: yTicksD,
  datasets: [
    curve(zip(tE_30V, yE_30V), COL.lpurple), curve(zip(tE_35V, yE_35V), COL.lorange),
    curve(zip(tE_39V, yE_39V), COL.sienna), curve(zip(tE_43V, yE_43V), COL.magenta),
    fitCurve(zip(tE_fit, yE_fit))
  ],
  notes: [
    {x: 0.26, y: 99.9, s: '4.3 V', r: 14}, {x: 0.266, y: 94.7, s: '3.9 V', r: 25},
    {x: 5.6, y: 96.3, s: '3.5 V', r: 27}, {x: 161, y: 96.9, s: '3 V', r: 15},
    {x: 0.204, y: 58.5, parts: [['(e) NOF', 'b']], size: 26},
    {x: 222, y: 58.5, parts: VD('0.5')}
  ]
});

makePanel({
  box: [980, 352, 1345, 558], xr: [1e-5, 1e6], yr: [54.05, 102.1], xt: xTicksF, yt: yTicksD,
  datasets: [
    curve(zip(tD_09V, yD_09V), COL.green), curve(zip(tD_39V, yD_39V), COL.sienna),
    fitCurve(zip(tF_fitA, yF_fitA)), fitCurve(zip(tF_fitB, yF_fitB))
  ],
  arrows: [{x: 9.6e-4, y1: 55.2, y2: 103.65, heads: [[100.9, 1], [89.7, -1], [55.2, 1]]}],
  legend: 'fit',
  notes: [
    {x: 2.2, y: 96.4, s: '3.9 V', r: 34}, {x: 6.7, y: 79.2, s: '0.9 V', r: 80},
    {x: 4.5e-4, y: 95.1, parts: [['A', 'i'], ['2', 's']], r: 90},
    {x: 4.5e-4, y: 73.8, parts: [['A', 'i'], ['1', 's']], r: 90},
    {x: 7.0e-5, y: 58.3, parts: [['(f)', 'b']], size: 26}
  ]
});
</script>
</body>
</html>
